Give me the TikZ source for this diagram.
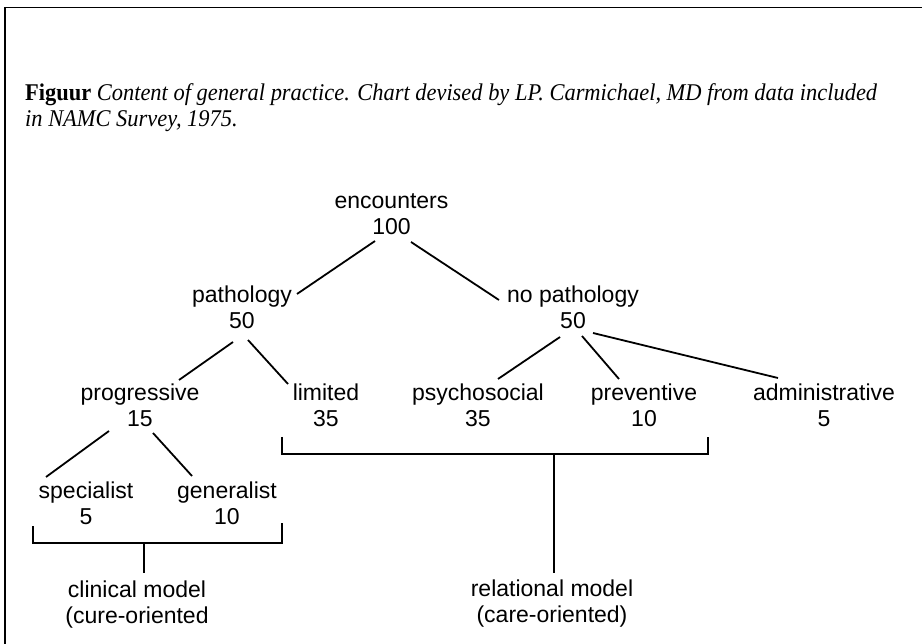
\documentclass[tikz,border=0pt]{standalone}
\usepackage{fontspec}
\setmainfont{Liberation Serif}
\newfontfamily\treefont{Liberation Sans}
\usetikzlibrary{calc}
\newlength\capwidth
\begin{document}
\settowidth{\capwidth}{\fontsize{24}{26}\selectfont\textbf{Figuur} \textit{Content of general practice. Chart devised by LP. Carmichael, MD from data included}}%
\pgfmathsetmacro\capsx{852/\capwidth}%
\begin{tikzpicture}[x=1pt,y=-1pt,
  treenode/.style={font=\treefont\fontsize{23}{26}\selectfont, align=center, anchor=base, inner sep=0pt},
  link/.style={line width=1.8pt},
  bracket/.style={line width=1.6pt},
  frame/.style={line width=1.5pt}]
\useasboundingbox (0,0) rectangle (922,644);
% frame
\draw[frame] (922,7.5) -- (5,7.5) -- (5,644);
% caption (base anchor = baseline of its last line)
\node[anchor=base west, inner sep=0pt, align=left, font=\fontsize{24}{26}\selectfont, xscale=\capsx] (caption) at (25,127)
  {\textbf{Figuur} \textit{Content of general practice. Chart devised by LP. Carmichael, MD from data included}\\
   \textit{in NAMC Survey, 1975.}};
% nodes (base anchor = baseline of the number line)
\node[treenode] (enc) at (391.5,235) {encounters\\100};
\node[treenode] (path) at (242,329) {pathology\\50};
\node[treenode] (nopath) at (573,329) {no pathology\\50};
\node[treenode] (prog) at (140,427) {progressive\\15};
\node[treenode] (lim) at (326,427) {limited\\35};
\node[treenode] (psy) at (478,427) {psychosocial\\35};
\node[treenode] (prev) at (644,427) {preventive\\10};
\node[treenode] (adm) at (824,427) {administrative\\5};
\node[treenode] (spec) at (86,524) {specialist\\5};
\node[treenode] (gen) at (227,524) {generalist\\10};
\node[treenode] (clin) at (137,623) {clinical model\\(cure-oriented};
\node[treenode] (rel) at (552,622) {relational model\\(care-oriented)};
% connectors
\draw[link] ($(enc.base)+(-16.5,6)$) -- ($(path.base)+(55,-35)$);
\draw[link] ($(enc.base)+(19.5,7)$) -- ($(nopath.base)+(-74,-29)$);
\draw[link] ($(path.base)+(-9,13)$) -- ($(prog.base)+(39,-47)$);
\draw[link] ($(path.base)+(6,11)$) -- ($(lim.base)+(-38,-43)$);
\draw[link] ($(nopath.base)+(-13,8)$) -- ($(psy.base)+(20,-48)$);
\draw[link] ($(nopath.base)+(9,7)$) -- ($(prev.base)+(-25,-48)$);
\draw[link] ($(nopath.base)+(20,4)$) -- ($(adm.base)+(-46,-49)$);
\draw[link] ($(prog.base)+(-31,4)$) -- ($(spec.base)+(-40,-47)$);
\draw[link] ($(prog.base)+(13,6)$) -- ($(gen.base)+(-35,-48)$);
% clinical bracket
\coordinate (cb) at (144,543);
\draw[bracket] ($(spec.base)+(-53,2)$) |- (cb) -| ($(gen.base)+(55,-1)$);
\draw[bracket] (cb) -- ($(clin.base)+(7,-50)$);
% relational bracket
\coordinate (rb) at (554,454);
\draw[bracket] ($(lim.base)+(-44,10)$) |- (rb) -| ($(prev.base)+(64,10)$);
\draw[bracket] (rb) -- ($(rel.base)+(2,-49)$);
\end{tikzpicture}
\end{document}
